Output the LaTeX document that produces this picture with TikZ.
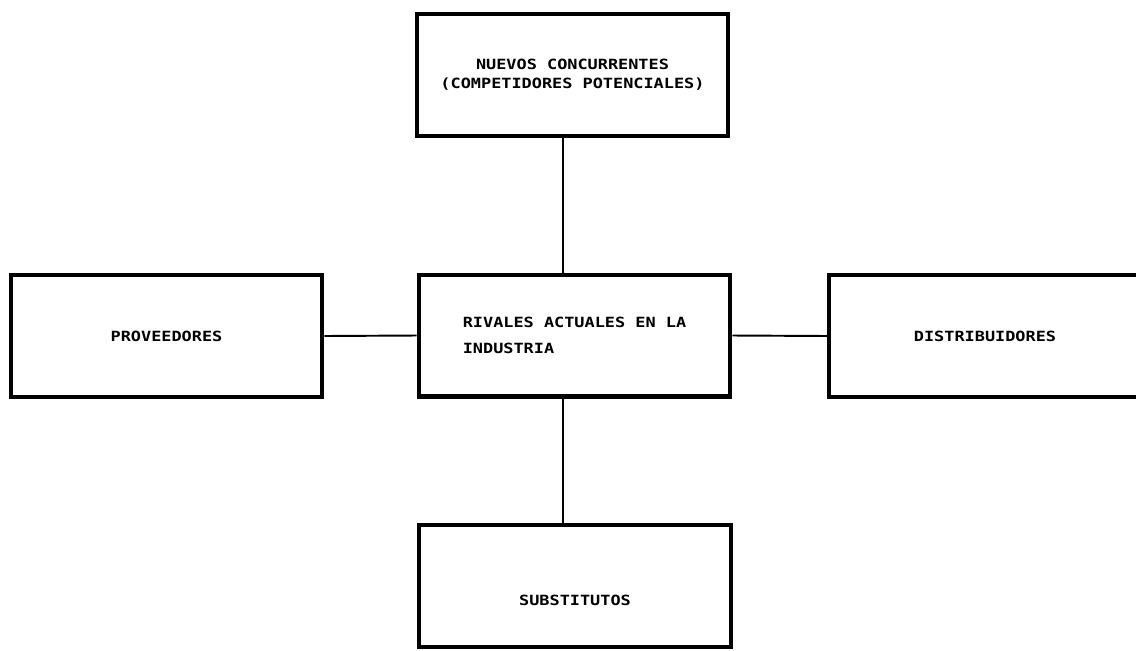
\documentclass[tikz,border=0pt]{standalone}
\usepackage{fontspec}
\newfontfamily\matrizfont[FakeStretch=1.2]{DejaVu Sans Mono}
\usetikzlibrary{positioning}

\begin{document}
\begin{tikzpicture}[x=0.02cm, y=-0.02cm,
        caja/.style={draw, line width=2.3pt, minimum width=6.24cm, minimum height=2.44cm,
            inner sep=0pt, align=center,
            font=\matrizfont\bfseries\fontsize{8}{10.8}\selectfont},
        enlace/.style={line width=1.1pt}]
        \useasboundingbox (0,0) rectangle (1136,650);

        % Box superiore (nuevos concurrentes)
        \node[caja] (nuevos) at (572.5, 75) {
            NUEVOS CONCURRENTES \\
            (COMPETIDORES POTENCIALES)
        };

        % Box centrale (rivales)
        \node[caja, align=left, font=\matrizfont\bfseries\fontsize{8}{14.8}\selectfont] (rivales) at (574.5, 335.5) {
            RIVALES ACTUALES EN LA \\
            INDUSTRIA
        };

        % Box sinistro e destro
        \node[caja] (proveedores) at (166.5, 336) {PROVEEDORES};
        \node[caja] (distribuidores) at (985, 336) {DISTRIBUIDORES};

        % Box inferiore
        \node[caja, text height=22pt] (substitutos) at (575, 586) {SUBSTITUTOS};

        % Asse verticale delle linee
        \coordinate (asse) at (563, 0);

        % Linee
        \draw[enlace] (nuevos.south -| asse) -- (rivales.north -| asse);
        \draw[enlace] (rivales.south -| asse) -- (substitutos.north -| asse);
        \draw[enlace] (proveedores.east) -- (rivales.west);
        \draw[enlace] (rivales.east) -- (distribuidores.west);
    \end{tikzpicture}
\end{document}
